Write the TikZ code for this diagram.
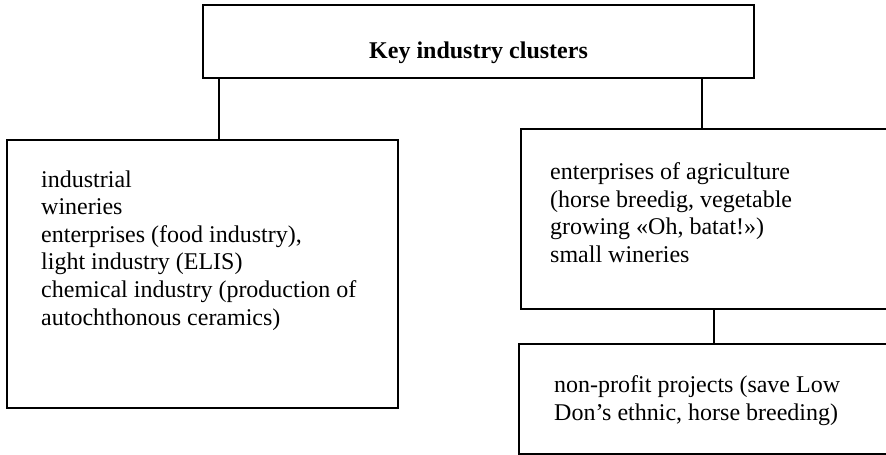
\documentclass[tikz,border=0pt]{standalone}
\usepackage{fontspec}
\setmainfont{Liberation Serif}
\begin{document}
\begin{tikzpicture}[x=1pt,y=-1pt,
  box/.style={draw=black, line width=1.6pt, rectangle, inner sep=0pt},
  link/.style={draw=black, line width=1.4pt},
  txt/.style={anchor=base west, inner sep=0pt, align=left, font=\fontsize{24}{27.6}\selectfont}]
\useasboundingbox (0,0) rectangle (886,455);
\clip (0,0) rectangle (886,455);
\node[box, minimum width=551pt, minimum height=73pt] (top) at (478.5,41.5) {};
\node[box, minimum width=391pt, minimum height=268pt] (left) at (202.5,274) {};
\node[box, minimum width=400pt, minimum height=180pt] (right) at (721,219) {};
\node[box, minimum width=400pt, minimum height=110pt] (bottom) at (719,399) {};
\node[anchor=base, inner sep=0pt, font=\fontsize{24}{27.6}\selectfont\bfseries] (title) at (478.5,58) {Key industry clusters};
% anchors are at the baseline of the last line
\node[txt] (ltxt) at (41,325) {industrial\\wineries\\enterprises (food industry),\\light industry (ELIS)\\chemical industry (production of\\autochthonous ceramics)};
\node[txt] (rtxt) at (550,262.5) {enterprises of agriculture\\(horse breedig, vegetable\\growing «Oh, batat!»)\\small wineries};
\node[txt] (btxt) at (554,420) {non-profit projects (save Low\\Don’s ethnic, horse breeding)};
\draw[link] (top.south -| 219,0) -- (left.north -| 219,0);
\draw[link] (top.south -| 702,0) -- (right.north -| 702,0);
\draw[link] (right.south -| 714,0) -- (bottom.north -| 714,0);
\end{tikzpicture}
\end{document}
